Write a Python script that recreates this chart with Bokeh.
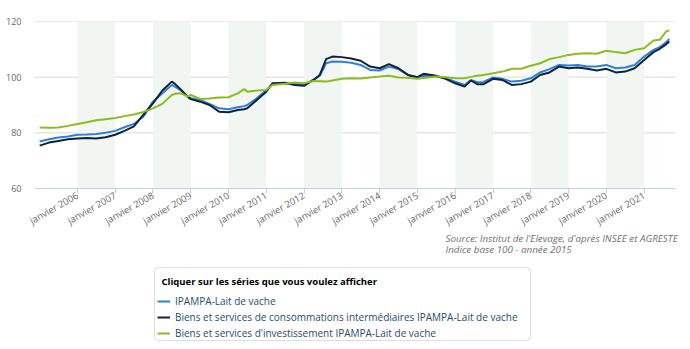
import pandas as pd
from bokeh.plotting import figure
from bokeh.models import (Range1d, FixedTicker, BoxAnnotation, Legend, LegendItem,
                          Label, ColumnDataSource)
from bokeh.embed import file_html
from bokeh.resources import INLINE

# ---------------- data ----------------
months = ["2005-01", "2005-04", "2005-07", "2005-10", "2006-01", "2006-04", "2006-07", "2006-10",
          "2007-01", "2007-04", "2007-07", "2007-10", "2008-01", "2008-04", "2008-07", "2008-08",
          "2008-10", "2008-12", "2009-01", "2009-04", "2009-07", "2009-10", "2010-01", "2010-04",
          "2010-06", "2010-07", "2010-10", "2011-01", "2011-03", "2011-07", "2011-10", "2012-01",
          "2012-04", "2012-06", "2012-08", "2012-10", "2013-01", "2013-04", "2013-07", "2013-10",
          "2014-01", "2014-04", "2014-07", "2014-10", "2015-01", "2015-03", "2015-07", "2015-10",
          "2016-01", "2016-04", "2016-06", "2016-08", "2016-10", "2017-01", "2017-04", "2017-07",
          "2017-10", "2018-01", "2018-04", "2018-07", "2018-10", "2019-01", "2019-04", "2019-07",
          "2019-10", "2020-01", "2020-04", "2020-07", "2020-10", "2021-01", "2021-04", "2021-06",
          "2021-08", "2021-09"]

ipampa = [76.9, 77.7, 78.3, 78.7, 79.3, 79.4, 79.6, 80.0,
          80.7, 82.0, 83.2, 85.9, 91.2, 94.2, 97.2, 96.6,
          95.2, 93.0, 92.4, 91.8, 90.4, 88.8, 88.5, 89.2,
          89.6, 90.0, 92.4, 95.4, 97.4, 97.8, 97.6, 97.2,
          99.0, 100.5, 105.0, 105.6, 105.5, 105.2, 104.4, 102.6,
          102.4, 103.8, 102.9, 100.8, 100.0, 100.5, 100.2, 99.6,
          98.4, 97.2, 99.0, 98.2, 98.3, 99.9, 99.4, 98.4,
          98.7, 99.6, 101.7, 102.9, 104.4, 104.2, 104.4, 103.8,
          103.8, 104.4, 103.2, 103.5, 104.4, 107.4, 109.8, 110.8,
          112.5, 113.7]

conso_inter = [75.4, 76.5, 77.1, 77.7, 78.0, 78.1, 78.0, 78.4,
               79.3, 80.7, 82.3, 86.5, 90.6, 95.2, 98.4, 97.6,
               95.4, 93.0, 92.1, 91.2, 90.0, 87.6, 87.4, 88.2,
               88.5, 88.8, 91.8, 94.8, 97.8, 98.0, 97.2, 96.9,
               99.0, 100.8, 106.5, 107.4, 107.2, 106.7, 105.9, 103.8,
               103.2, 104.7, 103.2, 100.8, 100.0, 101.2, 100.5, 99.4,
               97.8, 96.6, 98.8, 97.5, 97.5, 99.4, 99.0, 97.2,
               97.5, 98.4, 100.8, 101.7, 103.8, 103.2, 103.5, 103.0,
               102.4, 103.0, 101.7, 102.0, 103.2, 106.2, 109.0, 110.2,
               111.8, 112.8]

investissement = [81.9, 81.8, 81.9, 82.5, 83.2, 83.8, 84.5, 84.9,
                  85.3, 86.0, 86.6, 87.5, 88.8, 90.4, 93.6, 94.0,
                  94.2, 93.0, 93.6, 92.2, 92.3, 92.7, 92.8, 94.2,
                  95.7, 94.8, 95.2, 95.4, 97.2, 97.6, 98.1, 97.8,
                  98.6, 98.5, 98.4, 98.8, 99.4, 99.6, 99.5, 99.9,
                  100.2, 100.5, 99.9, 99.8, 99.4, 99.7, 100.2, 100.0,
                  99.6, 99.6, 100.1, 100.5, 100.8, 101.4, 102.0, 103.0,
                  103.0, 104.1, 105.0, 106.5, 107.2, 108.0, 108.4, 108.6,
                  108.4, 109.5, 109.0, 108.6, 109.8, 110.4, 113.2, 113.4,
                  116.4, 116.8]

series_names = ["IPAMPA-Lait de vache",
                "Biens et services de consommations intermédiaires IPAMPA-Lait de vache",
                "Biens et services d'investissement IPAMPA-Lait de vache"]
series_colors = ["#2f7ed8", "#0d233a", "#8bbc21"]

tick_years = list(range(2006, 2022))
tick_labels = ["janvier %d" % y for y in tick_years]
band_years = [2006, 2008, 2010, 2012, 2014, 2016, 2018, 2020]
y_ticks = [60, 80, 100, 120]
y_min, y_max = 60, 120
axis_start, axis_end = "2004-11-12", "2021-10-31"

legend_title = "Cliquer sur les séries que vous voulez afficher"
source_lines = ["Source: Institut de l'Elevage, d'après INSEE et AGRESTE",
                "Indice base 100 - année 2015"]

# ---------------- layout constants (pixels) ----------------
W, H = 690, 349
TOP = 21
FRAME_L, FRAME_R = 27, 686      # drawing frame (wider than the axis so texts are not clipped)
AXIS_L, AXIS_R = 34, 675        # extent of the x axis line / grid lines
AXIS_Y = 188                    # pixel row of the value 60


def ms(dt):
    return pd.Timestamp(dt).value / 1e6


a0, a1 = ms(axis_start), ms(axis_end)
per_px = (a1 - a0) / (AXIS_R - AXIS_L)
x_lo = a0 - (AXIS_L - FRAME_L) * per_px
x_hi = a1 + (FRAME_R - AXIS_R) * per_px
y_bottom = y_max - (y_max - y_min) * (H - TOP) / (AXIS_Y - TOP)

dates = pd.to_datetime(months, format="%Y-%m")
src = ColumnDataSource(dict(date=dates, a=ipampa, b=conso_inter, c=investissement))

p = figure(width=W, height=H, x_axis_type="datetime",
           x_range=Range1d(x_lo, x_hi), y_range=Range1d(y_bottom, y_max),
           output_backend="svg", toolbar_location=None,
           min_border_left=FRAME_L, min_border_right=W - FRAME_R, min_border_top=TOP,
           min_border_bottom=0)
p.outline_line_color = None
p.background_fill_color = "white"
p.border_fill_color = "white"
p.xgrid.grid_line_color = None
p.ygrid.grid_line_color = None

for yr in band_years:
    p.add_layout(BoxAnnotation(left=ms("%d-01-01" % yr), right=ms("%d-01-01" % (yr + 1)),
                               bottom=y_min, top=y_max,
                               fill_color="#f2f6f2", fill_alpha=1.0, line_color=None,
                               level="underlay"))

# horizontal grid lines, limited to the axis extent
grid_vals = y_ticks[1:]
p.segment(x0=[a0] * len(grid_vals), x1=[a1] * len(grid_vals), y0=grid_vals, y1=grid_vals,
          line_color="#d8d8d8", line_width=1, level="underlay")

renderers = []
for col, color in zip(["a", "b", "c"], series_colors):
    renderers.append(p.line("date", col, source=src, line_color=color, line_width=2))

xt = [ms("%d-01-01" % y) for y in tick_years]
p.xaxis.fixed_location = y_min
p.xaxis.bounds = (a0, a1)
p.xaxis.ticker = FixedTicker(ticks=xt)
p.xaxis.major_label_overrides = {t: lab for t, lab in zip(xt, tick_labels)}
p.xaxis.major_label_orientation = 0.52
p.xaxis.axis_line_color = "#C0D0E0"
p.xaxis.major_tick_line_color = "#C0D0E0"
p.xaxis.major_tick_in = 0
p.xaxis.major_tick_out = 5
p.xaxis.minor_tick_line_color = None
p.xaxis.major_label_text_font = "Open Sans"
p.xaxis.major_label_text_font_size = "9.5px"
p.xaxis.major_label_text_color = "#666666"
p.xaxis.major_label_standoff = 1

p.yaxis.ticker = FixedTicker(ticks=y_ticks)
p.yaxis.axis_line_color = None
p.yaxis.major_tick_line_color = None
p.yaxis.minor_tick_line_color = None
p.yaxis.major_label_text_font = "Open Sans"
p.yaxis.major_label_text_font_size = "9px"
p.yaxis.major_label_text_color = "#666666"
p.yaxis.major_label_standoff = 0

# ---------------- source text ----------------
for i, line in enumerate(source_lines):
    p.add_layout(Label(x=445 - FRAME_L, y=H - 238 - 11 * i, x_units="screen", y_units="screen",
                       text=line, text_font="Open Sans", text_font_size="9.8px",
                       text_font_style="italic", text_color="#707070",
                       text_baseline="middle", text_align="left"))

# ---------------- legend box ----------------
p.add_layout(BoxAnnotation(left=154 - FRAME_L, right=530 - FRAME_L, top=H - 267, bottom=H - 340,
                           left_units="screen", right_units="screen",
                           top_units="screen", bottom_units="screen",
                           fill_color="white", fill_alpha=1.0,
                           line_color="#909090", line_width=1, border_radius=4))
p.add_layout(Label(x=161 - FRAME_L, y=H - 281, x_units="screen", y_units="screen",
                   text=legend_title, text_font="Open Sans", text_font_size="9.5px",
                   text_font_style="bold", text_color="#000000",
                   text_baseline="middle", text_align="left"))

items = [LegendItem(label=n, renderers=[r]) for n, r in zip(series_names, renderers)]
legend = Legend(items=items, location=(157 - FRAME_L, H - 340),
                label_text_font="Open Sans", label_text_font_size="10px",
                label_text_color="#274b6d",
                glyph_width=13, glyph_height=14, label_height=14, label_standoff=5,
                spacing=2, padding=4, margin=0,
                border_line_color=None, background_fill_alpha=0.0,
                click_policy="hide")
p.add_layout(legend)

open("out.html", "w").write(file_html(p, INLINE))
